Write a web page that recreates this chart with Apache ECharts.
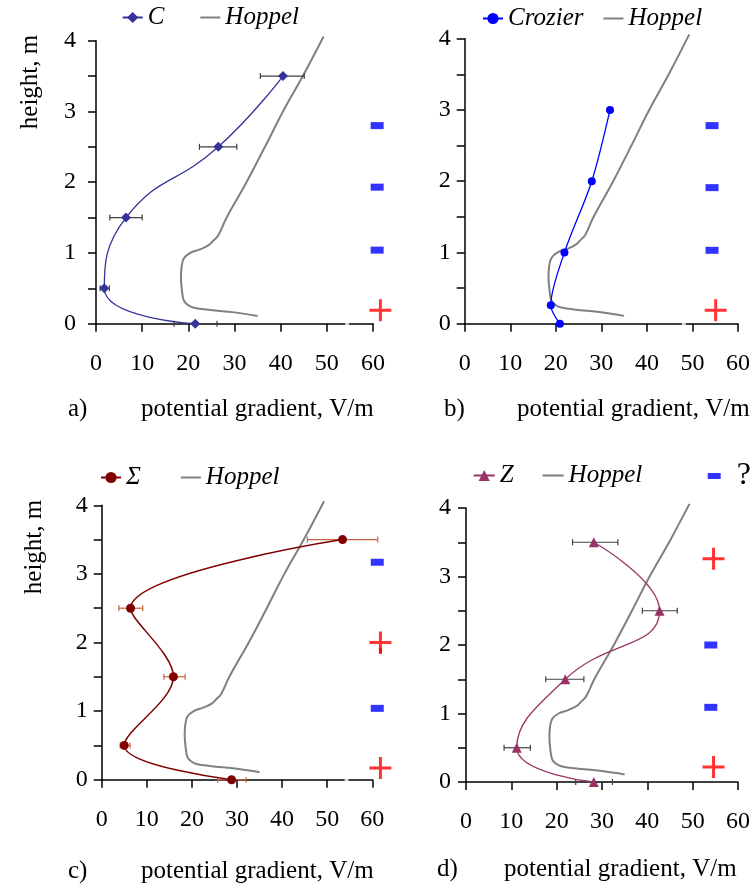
<!DOCTYPE html>
<html>
<head>
<meta charset="utf-8">
<script src="https://cdn.jsdelivr.net/npm/echarts@6/dist/echarts.min.js"></script>
<style>
  html, body { margin: 0; padding: 0; background: #fff; }
</style>
</head>
<body>
<div id="chart" style="width: 753px;height: 886px"></div>
<script>
// heights of the measurement points (m)
var heights = [0, 0.5, 1.5, 2.5, 3.5];

// Hoppel reference profile (potential gradient V/m, height m)
var hoppelX = [35, 30, 24, 21, 19.8, 19, 18.6, 18.4, 18.5, 19, 20.4, 22.5, 24.4, 25.5, 26.5, 28.3, 32.6, 36.6, 40.5, 44.8, 49.3];
var hoppelY = [0.11, 0.16, 0.2, 0.23, 0.27, 0.33, 0.48, 0.65, 0.78, 0.92, 1.0, 1.05, 1.11, 1.18, 1.25, 1.5, 2.0, 2.5, 3.0, 3.5, 4.06];

// a) C
var cX = [21.5, 1.8, 6.5, 26.5, 40.5];
var cErrLow = [16.9, 0.9, 3.0, 22.4, 35.6];
var cErrHigh = [26.2, 2.9, 10.0, 30.5, 45.1];

// b) Crozier
var crozierX = [20.9, 18.9, 21.9, 27.9, 31.9];
var crozierY = [0, 0.26, 1, 2, 3];

// c) Sigma
var sigmaX = [28.8, 5.0, 15.9, 6.4, 53.4];
var sigmaErrLow = [25.7, 4.1, 13.8, 3.8, 45.6];
var sigmaErrHigh = [32.0, 6.3, 18.5, 9.1, 61.2];

// d) Z
var zX = [28.2, 11.2, 21.9, 42.7, 28.2];
var zErrLow = [24.2, 8.4, 17.6, 38.9, 23.5];
var zErrHigh = [32.3, 14.2, 26.0, 46.6, 33.5];

// space charge signs beside each panel: [x, height]
var minusA = [[60.9, 2.80], [60.9, 1.93], [60.9, 1.04]];
var plusA = [[61.6, 0.19]];
var minusB = [[54.3, 2.78], [54.3, 1.91], [54.3, 1.03]];
var plusB = [[55.1, 0.19]];
var minusC = [[61.1, 3.17], [61.1, 1.04]];
var plusC = [[61.8, 2.0], [61.8, 0.17]];
var dotC = [[61.8, 1.88]];
var minusD = [[54.0, 2.0], [54.0, 1.09]];
var plusD = [[54.6, 3.26], [54.6, 0.22]];

// small breaks in the x axis line
var breakA = [[54.4, 0]];
var breakB = [[48.1, 0]];
var breakC = [[54.3, 0]];

var xTicks = [0, 10, 20, 30, 40, 50, 60];

var serif = 'Liberation Serif';
var plusPath = 'path://M0,9.5H9.5V0H12.5V9.5H22V12.5H12.5V22H9.5V12.5H0Z';
var lineIcon = 'path://M0,0H20V2H0Z';

function zip(xs, ys) {
  var out = [];
  for (var i = 0; i < xs.length; i++) out.push([xs[i], ys[i]]);
  return out;
}
function errData(lo, hi, ys) {
  var out = [];
  for (var i = 0; i < lo.length; i++) out.push([lo[i], hi[i], ys[i]]);
  return out;
}

function errorBarItem(params, api) {
  var lo = api.coord([api.value(0), api.value(2)]);
  var hi = api.coord([api.value(1), api.value(2)]);
  var h = 3;
  var style = { stroke: api.visual('color'), lineWidth: 1.2 };
  return {
    type: 'group',
    children: [
      { type: 'line', shape: { x1: lo[0], y1: lo[1], x2: hi[0], y2: hi[1] }, style: style },
      { type: 'line', shape: { x1: lo[0], y1: lo[1] - h, x2: lo[0], y2: lo[1] + h }, style: style },
      { type: 'line', shape: { x1: hi[0], y1: hi[1] - h, x2: hi[0], y2: hi[1] + h }, style: style }
    ]
  };
}

function makeX(gi) {
  return {
    type: 'value', gridIndex: gi, min: xTicks[0], max: xTicks[xTicks.length - 1], interval: 10,
    axisLine: { show: true, onZero: false, lineStyle: { color: '#000', width: 1.5 } },
    axisTick: { show: true, length: 8, lineStyle: { color: '#000', width: 1.5 } },
    axisLabel: { fontSize: 24, color: '#000', margin: 28, fontFamily: serif },
    splitLine: { show: false }
  };
}
function makeY(gi, margin) {
  return {
    type: 'value', gridIndex: gi, min: 0, max: 4, interval: 0.5,
    axisLine: { show: true, onZero: false, lineStyle: { color: '#000', width: 1.5 } },
    axisTick: { show: true, length: 8, lineStyle: { color: '#000', width: 1.5 } },
    axisLabel: {
      fontSize: 24, color: '#000', margin: margin, fontFamily: serif,
      formatter: function (v) { return Number.isInteger(v) ? String(v) : ''; }
    },
    splitLine: { show: false }
  };
}

function hoppelSeries(gi) {
  return {
    name: 'Hoppel', type: 'line', xAxisIndex: gi, yAxisIndex: gi,
    data: zip(hoppelX, hoppelY), symbol: 'none', smooth: 0.4, clip: false,
    lineStyle: { color: '#808080', width: 2 }, itemStyle: { color: '#808080' }, z: 2
  };
}
function errSeries(gi, lo, hi, color) {
  return {
    name: 'err' + gi, type: 'custom', xAxisIndex: gi, yAxisIndex: gi,
    renderItem: errorBarItem, data: errData(lo, hi, heights),
    encode: { x: [0, 1], y: 2 }, itemStyle: { color: color }, clip: false, silent: true, z: 3
  };
}
function signSeries(gi, name, data, kind) {
  var sym = { plus: plusPath, minus: 'rect', dot: 'rect' }[kind];
  var size = { plus: [22, 22], minus: [13, 7], dot: [3, 6] }[kind];
  return {
    name: name, type: 'scatter', xAxisIndex: gi, yAxisIndex: gi, data: data, clip: false, silent: true,
    symbol: sym, symbolSize: size,
    itemStyle: { color: kind === 'minus' ? '#0000ff' : '#ff0000' }, z: 4
  };
}
function breakSeries(gi, data) {
  return {
    name: 'break' + gi, type: 'scatter', xAxisIndex: gi, yAxisIndex: gi, data: data, clip: false,
    silent: true, symbol: 'rect', symbolSize: [4, 6], itemStyle: { color: '#ffffff' }, z: 5
  };
}

var legendText = { fontFamily: serif, fontStyle: 'italic', fontSize: 25, color: '#000' };
var titleText = { fontFamily: serif, fontSize: 25, fontWeight: 'normal', color: '#000' };
var hoppelLegend = { name: 'Hoppel', icon: lineIcon, itemStyle: { color: '#808080' } };

var chart = echarts.init(document.getElementById('chart'));

var option = {
  animation: false,
  backgroundColor: '#fff',
  textStyle: { fontFamily: serif },
  grid: [
    { left: 96, top: 40.7, width: 277, height: 283 },
    { left: 464.7, top: 38.7, width: 277, height: 285 },
    { left: 101.7, top: 505.3, width: 270.6, height: 274.4 },
    { left: 466, top: 508, width: 272.7, height: 274 }
  ],
  xAxis: [makeX(0), makeX(1), makeX(2), makeX(3)],
  yAxis: [makeY(0, 20), makeY(1, 14), makeY(2, 14), makeY(3, 15)],
  legend: [
    { data: ['C', hoppelLegend], left: 121.7, top: 5, itemWidth: 20, itemHeight: 14, itemGap: 36, textStyle: legendText, padding: 0 },
    { data: ['Crozier', hoppelLegend], left: 482, top: 6, itemWidth: 20, itemHeight: 14, itemGap: 20, textStyle: legendText, padding: 0 },
    { data: ['Σ', hoppelLegend], left: 100, top: 465, itemWidth: 20, itemHeight: 14, itemGap: 40, textStyle: legendText, padding: 0 },
    { data: ['Z', hoppelLegend], left: 472.7, top: 463, itemWidth: 21, itemHeight: 14, itemGap: 29, textStyle: legendText, padding: 0 },
    { data: ['?'], left: 707.7, top: 460, itemWidth: 13, itemHeight: 6, textStyle: { fontFamily: serif, fontSize: 32, color: '#000', padding: [0, 0, 0, 11] }, padding: 0 }
  ],
  title: [
    { text: 'a)', left: 68, top: 397, padding: 0, textStyle: titleText },
    { text: 'potential gradient, V/m', left: 141, top: 397, padding: 0, textStyle: titleText },
    { text: 'b)', left: 444, top: 397, padding: 0, textStyle: titleText },
    { text: 'potential gradient, V/m', left: 517, top: 397, padding: 0, textStyle: titleText },
    { text: 'c)', left: 68, top: 859, padding: 0, textStyle: titleText },
    { text: 'potential gradient, V/m', left: 141, top: 859, padding: 0, textStyle: titleText },
    { text: 'd)', left: 437, top: 857, padding: 0, textStyle: titleText },
    { text: 'potential gradient, V/m', left: 504, top: 857, padding: 0, textStyle: titleText }
  ],
  graphic: [
    { type: 'text', x: 30, y: 82, rotation: Math.PI / 2, style: { text: 'height, m', font: '25px "Liberation Serif"', fill: '#000', align: 'center', verticalAlign: 'middle' } },
    { type: 'text', x: 34, y: 547, rotation: Math.PI / 2, style: { text: 'height, m', font: '25px "Liberation Serif"', fill: '#000', align: 'center', verticalAlign: 'middle' } }
  ],
  series: [
    // a)
    hoppelSeries(0),
    errSeries(0, cErrLow, cErrHigh, '#404040'),
    {
      name: 'C', type: 'line', xAxisIndex: 0, yAxisIndex: 0, data: zip(cX, heights),
      smooth: 0.5, symbol: 'diamond', symbolSize: 10, clip: false,
      lineStyle: { color: '#333399', width: 1.3 }, itemStyle: { color: '#333399' }, z: 4
    },
    signSeries(0, 'minus a', minusA, 'minus'),
    signSeries(0, 'plus a', plusA, 'plus'),
    breakSeries(0, breakA),
    // b)
    hoppelSeries(1),
    {
      name: 'Crozier', type: 'line', xAxisIndex: 1, yAxisIndex: 1, data: zip(crozierX, crozierY),
      smooth: 0.3, symbol: 'circle', symbolSize: 8, clip: false,
      lineStyle: { color: '#0000ff', width: 1.3 }, itemStyle: { color: '#0000ff' }, z: 4
    },
    signSeries(1, 'minus b', minusB, 'minus'),
    signSeries(1, 'plus b', plusB, 'plus'),
    breakSeries(1, breakB),
    // c)
    hoppelSeries(2),
    errSeries(2, sigmaErrLow, sigmaErrHigh, '#c8643c'),
    {
      name: 'Σ', type: 'line', xAxisIndex: 2, yAxisIndex: 2, data: zip(sigmaX, heights),
      smooth: 0.35, symbol: 'circle', symbolSize: 9, clip: false,
      lineStyle: { color: '#800000', width: 1.5 }, itemStyle: { color: '#800000' }, z: 4
    },
    signSeries(2, 'minus c', minusC, 'minus'),
    signSeries(2, 'plus c', plusC, 'plus'),
    signSeries(2, 'dot c', dotC, 'dot'),
    breakSeries(2, breakC),
    // d)
    hoppelSeries(3),
    errSeries(3, zErrLow, zErrHigh, '#404040'),
    {
      name: 'Z', type: 'line', xAxisIndex: 3, yAxisIndex: 3, data: zip(zX, heights),
      smooth: 0.5, symbol: 'triangle', symbolSize: 10, clip: false,
      lineStyle: { color: '#993366', width: 1.3 }, itemStyle: { color: '#993366' }, z: 4
    },
    signSeries(3, '?', minusD, 'minus'),
    signSeries(3, 'plus d', plusD, 'plus')
  ]
};

chart.setOption(option);
</script>
</body>
</html>
